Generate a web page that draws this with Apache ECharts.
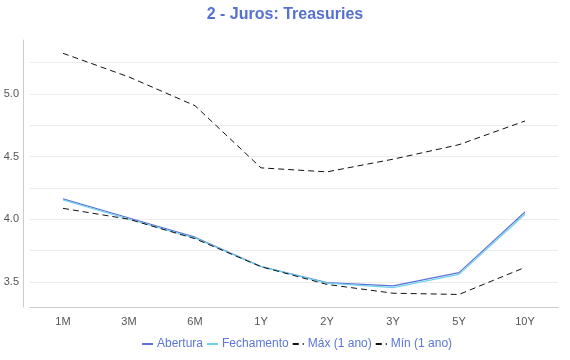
<!DOCTYPE html>
<html>
<head>
<meta charset="utf-8">
<script src="https://cdn.jsdelivr.net/npm/echarts@6/dist/echarts.min.js"></script>
<style>html,body{margin:0;padding:0;background:#fff}#c{width:570px;height:360px}</style>
</head>
<body>
<div id="c"></div>
<script>
var categories = ['1M', '3M', '6M', '1Y', '2Y', '3Y', '5Y', '10Y'];
var abertura = [4.163, 4.01, 3.857, 3.623, 3.494, 3.469, 3.574, 4.058];
var fechamento = [4.155, 4.00, 3.85, 3.622, 3.49, 3.455, 3.56, 4.04];
var maxAno = [5.324, 5.135, 4.906, 4.41, 4.378, 4.479, 4.595, 4.784];
var minAno = [4.087, 4.0, 3.845, 3.622, 3.48, 3.41, 3.40, 3.616];
var yLabelTicks = [3.5, 4.0, 4.5, 5.0];
var yGridTicks = [3.5, 3.75, 4.0, 4.25, 4.5, 4.75, 5.0, 5.25];

var chart = echarts.init(document.getElementById('c'), null, {renderer: 'canvas'});
var font = '"Liberation Sans", Arial, sans-serif';
chart.setOption({
  animation: false,
  textStyle: {fontFamily: font},
  title: {
    text: '2 - Juros: Treasuries', left: 'center', top: 2,
    textStyle: {color: '#5470d0', fontSize: 16, fontWeight: 'bold', fontFamily: font}
  },
  legend: {
    bottom: 5, left: 136, itemWidth: 11, itemHeight: 10, itemGap: 3,
    itemStyle: {opacity: 0},
    textStyle: {color: '#5a76d6', fontSize: 12, fontFamily: font, padding: [0, 0, 0, -1]},
    data: ['Abertura', 'Fechamento', 'Máx (1 ano)', 'Mín (1 ano)']
  },
  grid: {left: 30, right: 12, top: 40, bottom: 53},
  xAxis: {
    type: 'category', data: categories, boundaryGap: true,
    axisLine: {lineStyle: {color: '#ccc'}},
    axisTick: {show: false},
    axisLabel: {color: '#555', fontSize: 11, margin: 9}
  },
  yAxis: {
    type: 'value', min: 3.3, max: 5.43, offset: 7,
    axisLine: {show: true, lineStyle: {color: '#ccc'}},
    axisTick: {show: false, customValues: yGridTicks},
    axisLabel: {
      color: '#555', fontSize: 11, margin: 4, customValues: yLabelTicks,
      formatter: function (v) { return Number(v).toFixed(1); }
    },
    splitLine: {show: true, lineStyle: {color: '#ececec', width: 1}}
  },
  series: [
    {name: 'Abertura', type: 'line', data: abertura, symbol: 'none', lineStyle: {color: '#5b70d6', width: 1.2}, itemStyle: {color: '#5b70d6'}},
    {name: 'Fechamento', type: 'line', data: fechamento, symbol: 'none', lineStyle: {color: '#6fd2ea', width: 1.2}, itemStyle: {color: '#6fd2ea'}},
    {name: 'Máx (1 ano)', type: 'line', data: maxAno, symbol: 'none', lineStyle: {color: '#111', width: 1, type: [6, 4]}, itemStyle: {color: '#111'}},
    {name: 'Mín (1 ano)', type: 'line', data: minAno, symbol: 'none', lineStyle: {color: '#111', width: 1, type: [6, 4]}, itemStyle: {color: '#111'}}
  ]
});
</script>
</body>
</html>
